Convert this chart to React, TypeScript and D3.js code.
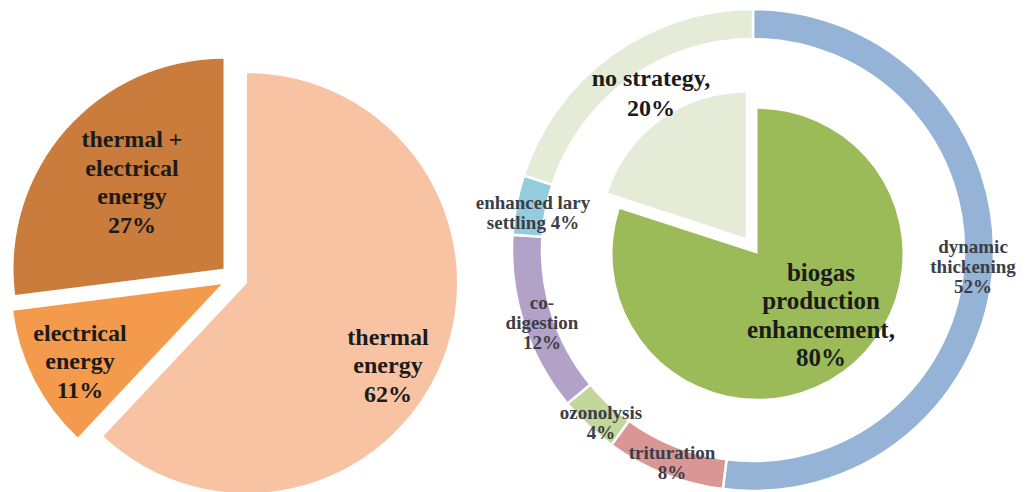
import React from "react";
import * as d3 from "d3";

// ---- data ----
const energyCategories = ["thermal energy", "electrical energy", "thermal + electrical energy"];
const energyValues = [62, 11, 27];
const energyColors = ["#F8C3A3", "#F39A4C", "#C97C3C"];

const strategyCategories = ["biogas production enhancement", "no strategy"];
const strategyValues = [80, 20];
const strategyColors = ["#9BBB59", "#E4EBD6"];

const techCategories = ["dynamic thickening", "trituration", "ozonolysis", "co-digestion", "enhanced lary settling", "no strategy"];
const techValues = [52, 8, 4, 12, 4, 20];
const techColors = ["#95B3D7", "#D99694", "#C3D69B", "#B3A2C7", "#93CDDD", "#E4EBD6"];

// label text lines (as in the picture)
const energyLabelLines = [
  ["thermal", "energy", "62%"],
  ["electrical", "energy", "11%"],
  ["thermal +", "electrical", "energy", "27%"],
];
const strategyLabelLines = [
  ["biogas", "production", "enhancement,", "80%"],
  ["no strategy,", "20%"],
];
const techLabelLines = [
  ["dynamic", "thickening", "52%"],
  ["trituration", "8%"],
  ["ozonolysis", "4%"],
  ["co-", "digestion", "12%"],
  ["enhanced lary", "settling 4%"],
  [],
];

// ---- layout ----
const W = 1025;
const H = 492;
const left = { cx: 234, cy: 278, r: 210, explode: 14 };
const right = { cx: 754, cy: 249, r: 145, ringCx: 753, ringCy: 250, ringInner: 211, ringOuter: 241 };
const strategyExplode = [6, 14];

// label centers (x, y of block center)
const energyLabelPos = [[388, 365], [80, 361], [132, 182]];
const strategyLabelPos = [[821, 315], [651, 93]];
const techLabelPos = [[973, 266], [672, 462], [601, 422], [542, 322], [533, 212], [0, 0]];

function Label({ x, y, lines, size, lh, fill, weight }: any) {
  const n = lines.length;
  return (
    <text
      x={x}
      textAnchor="middle"
      fontFamily="'Liberation Serif', 'Times New Roman', serif"
      fontWeight={weight}
      fontSize={size}
      fill={fill}
    >
      {lines.map((l: string, i: number) => (
        <tspan key={i} x={x} y={y + (i - (n - 1) / 2) * lh} dominantBaseline="central">
          {l}
        </tspan>
      ))}
    </text>
  );
}

export default function App() {
  const pie = d3.pie<number>().sort(null).value((d) => d);

  const energyArcs = pie(energyValues);
  const energyArc = d3.arc<d3.PieArcDatum<number>>().innerRadius(0).outerRadius(left.r);

  const strategyArcs = pie(strategyValues);
  const strategyArc = d3.arc<d3.PieArcDatum<number>>().innerRadius(0).outerRadius(right.r);

  const techArcs = pie(techValues);
  const techArc = d3
    .arc<d3.PieArcDatum<number>>()
    .innerRadius(right.ringInner)
    .outerRadius(right.ringOuter);

  const off = (a: d3.PieArcDatum<number>, d: number) => {
    const m = (a.startAngle + a.endAngle) / 2;
    return [Math.sin(m) * d, -Math.cos(m) * d];
  };

  return (
    <svg width={W} height={H} style={{ position: "absolute", left: 0, top: 0, display: "block" }}>
      <rect width={W} height={H} fill="#ffffff" />
      <g transform={`translate(${left.cx},${left.cy})`}>
        {energyArcs.map((a, i) => {
          const [dx, dy] = off(a, left.explode);
          return (
            <path
              key={i}
              d={energyArc(a) || ""}
              transform={`translate(${dx},${dy})`}
              fill={energyColors[i]}
            />
          );
        })}
      </g>
      <g transform={`translate(${right.ringCx},${right.ringCy})`}>
        {techArcs.map((a, i) => (
          <path key={i} d={techArc(a) || ""} fill={techColors[i]} stroke="#ffffff" strokeWidth={2.5} />
        ))}
      </g>
      <g transform={`translate(${right.cx},${right.cy})`}>
        {strategyArcs.map((a, i) => {
          const [dx, dy] = off(a, strategyExplode[i]);
          return (
            <path
              key={i}
              d={strategyArc(a) || ""}
              transform={`translate(${dx},${dy})`}
              fill={strategyColors[i]}
            />
          );
        })}
      </g>
      {energyLabelLines.map((lines, i) => (
        <Label key={"e" + i} x={energyLabelPos[i][0]} y={energyLabelPos[i][1]} lines={lines} size={24} lh={28.5} fill="#1b1b1b" weight="bold" />
      ))}
      {strategyLabelLines.map((lines, i) => (
        <Label key={"s" + i} x={strategyLabelPos[i][0]} y={strategyLabelPos[i][1]} lines={lines} size={i === 0 ? 25 : 24} lh={i === 0 ? 28.5 : 30} fill="#1b1b1b" weight="bold" />
      ))}
      {techLabelLines.map((lines, i) =>
        lines.length ? (
          <Label key={"t" + i} x={techLabelPos[i][0]} y={techLabelPos[i][1]} lines={lines} size={19} lh={20} fill="#3b3d47" weight="bold" />
        ) : null
      )}
    </svg>
  );
}
